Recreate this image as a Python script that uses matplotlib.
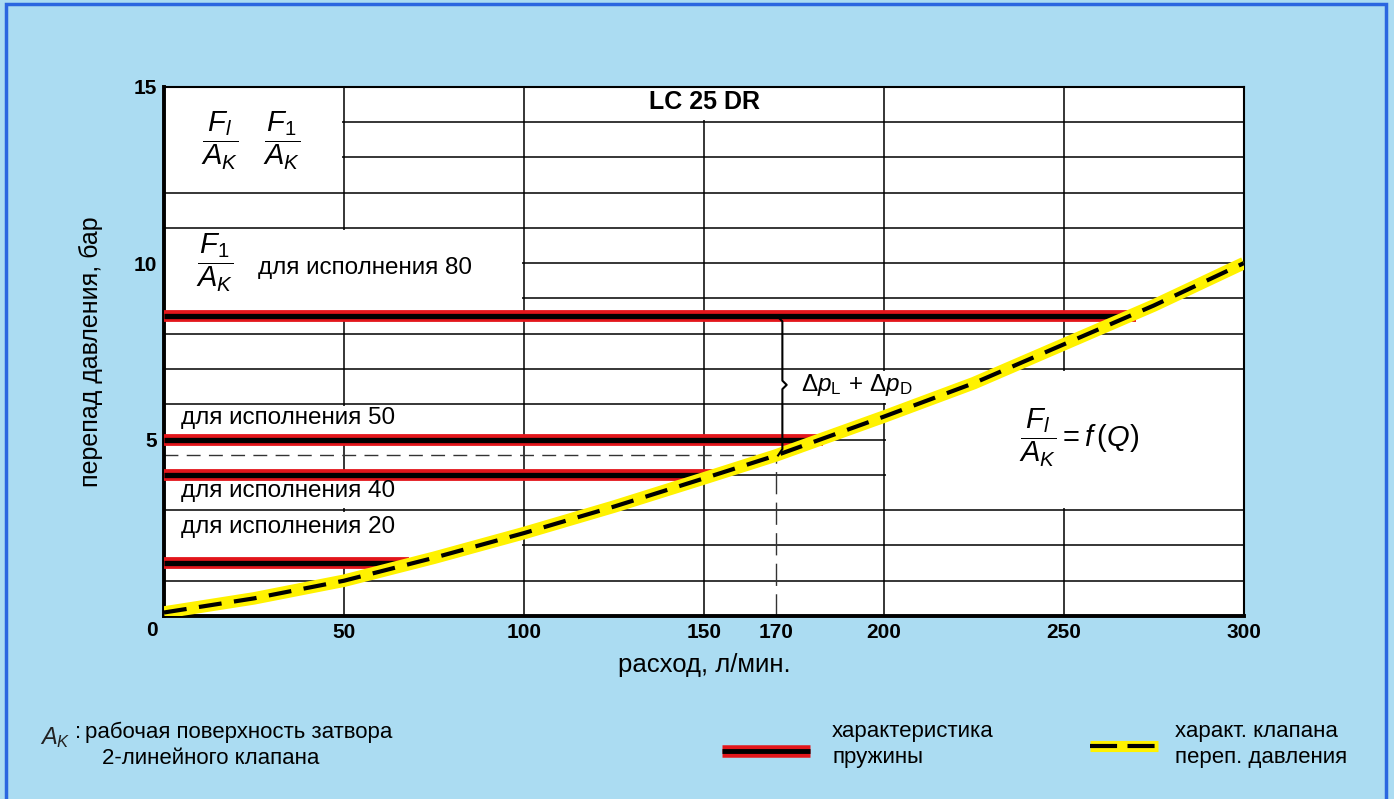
import matplotlib
matplotlib.use('Agg')
import matplotlib.pyplot as plt
import numpy as np
from matplotlib.lines import Line2D
from matplotlib.patches import Rectangle

plt.rcParams['font.family'] = ['Liberation Sans', 'DejaVu Sans']
plt.rcParams['mathtext.fontset'] = 'custom'
plt.rcParams['mathtext.rm'] = 'Liberation Sans'
plt.rcParams['mathtext.it'] = 'Liberation Sans:italic'
plt.rcParams['mathtext.bf'] = 'Liberation Sans:bold'

# valve characteristic Fl/Ak = f(Q)
flow = [0, 25, 50, 75, 100, 125, 150, 170, 200, 225, 250, 275, 300]
dp_valve = [0.1, 0.5, 1.0, 1.65, 2.35, 3.1, 3.9, 4.55, 5.65, 6.6, 7.7, 8.8, 10.0]

# spring characteristics F1/Ak for each version
versions = ['80', '50', '40', '20']
dp_spring = [8.5, 5.0, 4.0, 1.5]
q_spring_end = [270, 183, 153, 68]

# operating point
q_op = 170
dp_op = 4.55

x_ticks = [50, 100, 150, 170, 200, 250, 300]
y_ticks = [5, 10, 15]

BG = '#abdcf2'
RED = '#e3161b'
YELLOW = '#fff200'

fig = plt.figure(figsize=(13.94, 7.99), dpi=100, facecolor=BG)
ax = fig.add_axes([0.1176, 0.229, 0.7747, 0.6625])
ax.set_xlim(0, 300)
ax.set_ylim(0, 15)

# grid
ax.vlines(np.arange(50, 300, 50), 0, 15, color='black', lw=1.1, zorder=1)
ax.hlines(np.arange(1, 15), 0, 300, color='black', lw=1.1, zorder=1)

# white label fields that interrupt the grid (x0, x1, y0, y1)
fields = [(0, 50, 12, 15), (0, 100, 8.5, 11), (100, 200, 14, 15),
          (0, 100, 5, 6), (0, 100, 3, 4), (0, 100, 1.5, 3),
          (172, 208, 6, 7), (200, 300, 3, 7)]
for x0, x1, y0, y1 in fields:
    left = x0 - 1 if x0 == 0 else x0 + 0.6
    right = x1 + 1 if x1 == 300 else x1 - 0.6
    ax.add_patch(Rectangle((left, y0 + 0.05), right - left, y1 - y0 - 0.1,
                           facecolor='white', edgecolor='none', zorder=1.5))

# operating point guides
ax.hlines(dp_op, 0, q_op, color='#333333', lw=1.0, linestyles=(0, (10, 6)), zorder=2)
ax.vlines(q_op, 0, dp_op, color='#333333', lw=1.0, linestyles=(0, (16, 6)), zorder=2)

# spring lines
for dp, qe in zip(dp_spring, q_spring_end):
    ax.plot([0, qe], [dp, dp], color=RED, lw=8.5, solid_capstyle='butt', zorder=3)
    ax.plot([0, qe - 2], [dp, dp], color='black', lw=3.8, solid_capstyle='butt', zorder=3.1)

# valve curve
ax.plot(flow, dp_valve, color=YELLOW, lw=9, zorder=4, solid_capstyle='butt')
ax.plot(flow, dp_valve, color='black', lw=3, dashes=(5.5, 3), zorder=4.1)

# brace between spring level 80 and operating point
top = dp_spring[0]
mid = 6.55
bx = q_op + 1.8
ax.plot([q_op + 0.3, bx, bx, bx + 1.2, bx, bx, q_op + 0.6],
        [top, top - 0.15, mid + 0.12, mid, mid - 0.12, dp_op + 0.18, dp_op],
        color='black', lw=1.5, zorder=5)
ax.text(177, mid, r'$\Delta p_{\mathrm{L}}\, +\, \Delta p_{\mathrm{D}}$', fontsize=17.5,
        va='center', ha='left', zorder=6)

# labels inside the chart
ax.text(150.3, 14.58, 'LC 25 DR', fontsize=18, fontweight='bold', ha='center', va='center')
ax.text(15.6, 13.48, r'$\dfrac{F_l}{A_K}$', fontsize=21, ha='center', va='center')
ax.text(32.8, 13.48, r'$\dfrac{F_1}{A_K}$', fontsize=21, ha='center', va='center')
ax.text(14.2, 10.0, r'$\dfrac{F_1}{A_K}$', fontsize=21, ha='center', va='center')
lab_kw = dict(fontsize=17.5, ha='left', va='center')
ax.text(26.1, 9.86, 'для исполнения ' + versions[0], **lab_kw)
ax.text(4.7, 5.6, 'для исполнения ' + versions[1], **lab_kw)
ax.text(4.7, 3.54, 'для исполнения ' + versions[2], **lab_kw)
ax.text(4.7, 2.52, 'для исполнения ' + versions[3], **lab_kw)
ax.text(237.5, 5.05, r'$\dfrac{F_l}{A_K} = f\,(Q)$', fontsize=21, ha='left', va='center')

# axes styling
for side in ['left', 'bottom']:
    ax.spines[side].set_linewidth(2.8)
for side in ['top', 'right']:
    ax.spines[side].set_linewidth(1.5)
ax.set_xticks(x_ticks)
ax.set_yticks(y_ticks)
ax.tick_params(length=0, labelsize=15, pad=5)
for lab in ax.get_xticklabels() + ax.get_yticklabels():
    lab.set_fontweight('bold')
ax.text(-3.3, -0.4, '0', fontsize=15, fontweight='bold', ha='center', va='center', clip_on=False)
ax.set_xlabel('расход, л/мин.', fontsize=18.5, labelpad=8)
ax.set_ylabel('перепад давления, бар', fontsize=18, labelpad=22)

# bottom legend / notes
note_kw = dict(fontsize=16, ha='left', va='center')
fig.text(40 / 1394, 1 - 738 / 799, r'$A_K$', fontsize=17, ha='left', va='center', color='#222222')
fig.text(75 / 1394, 1 - 733 / 799, ':', **note_kw)
fig.text(85 / 1394, 1 - 732 / 799, 'рабочая поверхность затвора', **note_kw)
fig.text(102 / 1394, 1 - 758 / 799, '2-линейного клапана', **note_kw)
fig.text(832 / 1394, 1 - 732 / 799, 'характеристика', **note_kw)
fig.text(832 / 1394, 1 - 758 / 799, 'пружины', **note_kw)
fig.text(1175 / 1394, 1 - 732 / 799, 'характ. клапана', **note_kw)
fig.text(1175 / 1394, 1 - 758 / 799, 'переп. давления', **note_kw)

y_leg = 1 - 751 / 799
fig.add_artist(Line2D([722 / 1394, 810 / 1394], [y_leg, y_leg], color=RED, lw=9,
                      solid_capstyle='butt', transform=fig.transFigure))
fig.add_artist(Line2D([722 / 1394, 810 / 1394], [y_leg, y_leg], color='black', lw=3.5,
                      solid_capstyle='butt', transform=fig.transFigure))
y_leg2 = 1 - 746 / 799
fig.add_artist(Line2D([1090 / 1394, 1158 / 1394], [y_leg2, y_leg2], color=YELLOW, lw=8,
                      solid_capstyle='butt', transform=fig.transFigure))
fig.add_artist(Line2D([1090 / 1394, 1158 / 1394], [y_leg2, y_leg2], color='black', lw=3,
                      dashes=(6.5, 2.5), transform=fig.transFigure))

# blue frame
fig.add_artist(Rectangle((6 / 1394, -0.02), 1380 / 1394, 1 - 4 / 799 + 0.02, fill=False,
                         edgecolor='#2a66e0', lw=2.5, transform=fig.transFigure))

fig.savefig('out.png', dpi=100, facecolor=BG)
